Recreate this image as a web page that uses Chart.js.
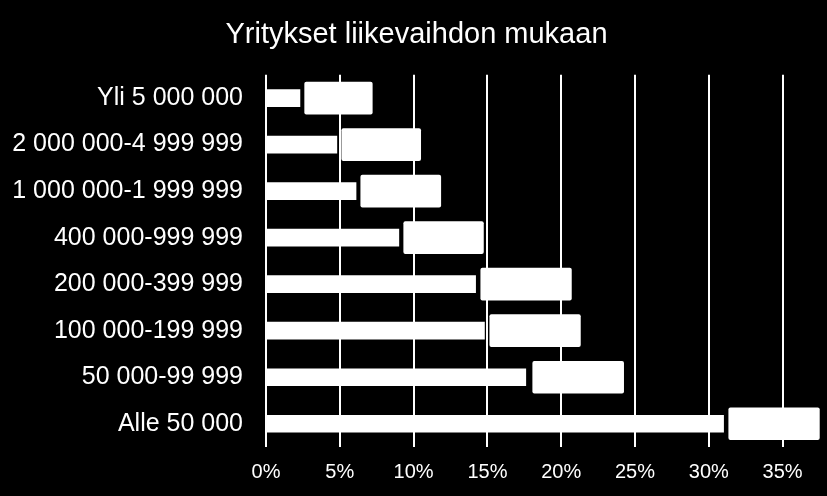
<!DOCTYPE html>
<html>
<head>
<meta charset="utf-8">
<script src="https://cdn.jsdelivr.net/npm/chart.js@4"></script>
<style>
  html, body { margin: 0; padding: 0; background: #000; }
  #wrap { width: 827px; height: 496px; position: relative; }
</style>
</head>
<body>
<div id="wrap"><canvas id="chart"></canvas></div>
<script>
// Kategoriat ylhäältä alas
const categories = [
  'Yli 5 000 000',
  '2 000 000-4 999 999',
  '1 000 000-1 999 999',
  '400 000-999 999',
  '200 000-399 999',
  '100 000-199 999',
  '50 000-99 999',
  'Alle 50 000'
];

// Osuudet (%) - ohuet palkit
const shares = [2.3, 4.8, 6.1, 9.0, 14.2, 14.8, 17.6, 31.0];

// Valkoiset laatikot palkkien perässä (alku ja loppu, %)
const boxStart = [2.62, 5.13, 6.42, 9.33, 14.55, 15.16, 18.07, 31.35];
const boxEnd = [7.2, 10.48, 11.84, 14.73, 20.69, 21.3, 24.23, 37.49];

const tickValues = [0, 5, 10, 15, 20, 25, 30, 35];

const boxes = boxStart.map((s, i) => [s, boxEnd[i]]);

Chart.defaults.font.family = '"Liberation Sans", Arial, sans-serif';
Chart.defaults.color = '#fff';

const ctx = document.getElementById('chart').getContext('2d');
const chart = new Chart(ctx, {
  type: 'bar',
  data: {
    labels: categories,
    datasets: [
      {
        label: 'Osuus',
        data: shares,
        backgroundColor: '#fff',
        barThickness: 17,
        grouped: false
      },
      {
        label: 'Laatikko',
        data: boxes,
        backgroundColor: '#fff',
        barThickness: 32,
        borderRadius: 2,
        borderSkipped: false,
        grouped: false
      }
    ]
  },
  options: {
    indexAxis: 'y',
    responsive: true,
    maintainAspectRatio: false,
    animation: false,
    layout: {
      padding: { left: 12, right: 6, top: 0, bottom: 1 }
    },
    plugins: {
      legend: { display: false },
      tooltip: { enabled: false },
      title: {
        display: true,
        text: 'Yritykset liikevaihdon mukaan',
        color: '#fff',
        font: { size: 29, weight: 'normal' },
        padding: { top: 18, bottom: 22 }
      }
    },
    scales: {
      x: {
        min: 0,
        max: 37.6,
        afterBuildTicks: function (scale) {
          scale.ticks = tickValues.map(v => ({ value: v }));
        },
        afterFit: function (scale) {
          scale.height = 48;
        },
        ticks: {
          color: '#fff',
          font: { size: 20 },
          padding: 13,
          callback: v => v + '%'
        },
        grid: {
          color: '#fff',
          lineWidth: 2,
          drawTicks: false
        },
        border: { display: false }
      },
      y: {
        afterFit: function (scale) {
          scale.width = 254;
        },
        ticks: {
          color: '#fff',
          font: { size: 25 },
          padding: 23
        },
        grid: { display: false, drawTicks: false },
        border: { display: false }
      }
    }
  }
});
</script>
</body>
</html>
